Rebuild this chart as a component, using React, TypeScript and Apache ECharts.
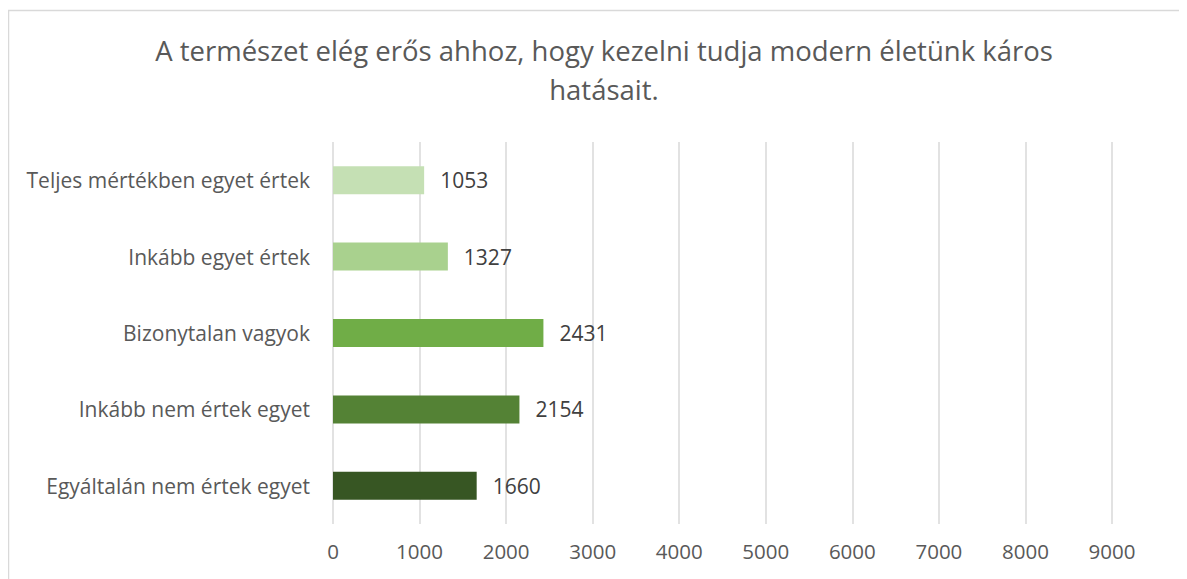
import React, { useEffect, useRef } from "react";
import * as echarts from "echarts";

const titleText = "A természet elég erős ahhoz, hogy kezelni tudja modern életünk káros\nhatásait.";
const categories = [
  "Egyáltalán nem értek egyet",
  "Inkább nem értek egyet",
  "Bizonytalan vagyok",
  "Inkább egyet értek",
  "Teljes mértékben egyet értek",
];
const values = [1660, 2154, 2431, 1327, 1053];
const barColors = ["#375623", "#548235", "#70AD47", "#A9D18E", "#C5E0B4"];
const axisMin = 0;
const axisMax = 9000;
const axisInterval = 1000;

const FONT = "'Open Sans', 'Noto Sans', sans-serif";

export default function App() {
  const ref = useRef<HTMLDivElement>(null);
  useEffect(() => {
    if (!ref.current) return;
    const chart = echarts.init(ref.current, undefined, { renderer: "svg" });
    chart.setOption({
      animation: false,
      graphic: [
        {
          type: "rect",
          shape: { x: 0.5, y: 2.5, width: 1300, height: 700 },
          style: { fill: "none", stroke: "#D9D9D9", lineWidth: 1.5 },
          silent: true,
        },
        {
          type: "text",
          x: 596,
          y: 62,
          style: {
            text: titleText,
            font: `27.5px ${FONT}`,
            fill: "#595959",
            textAlign: "center",
            textVerticalAlign: "middle",
            lineHeight: 39,
          },
        },
      ],
      grid: { left: 325, right: 75, top: 134, bottom: 55, containLabel: false },
      xAxis: {
        type: "value",
        min: axisMin,
        max: axisMax,
        interval: axisInterval,
        axisLine: { show: false },
        axisTick: { show: false },
        splitLine: { show: true, lineStyle: { color: "#D9D9D9", width: 1.5 } },
        axisLabel: {
          color: "#595959",
          fontSize: 20.5,
          fontFamily: FONT,
          margin: 16,
          formatter: (v: number) => String(v),
        },
      },
      yAxis: {
        type: "category",
        data: categories,
        axisLine: { show: false },
        axisTick: { show: false },
        axisLabel: { color: "#595959", fontSize: 21, fontFamily: FONT, margin: 23 },
      },
      series: [
        {
          type: "bar",
          data: values.map((v, i) => ({ value: v, itemStyle: { color: barColors[i] } })),
          barWidth: 28,
          label: {
            show: true,
            position: "right",
            distance: 16,
            color: "#404040",
            fontSize: 21,
            fontFamily: FONT,
          },
        },
      ],
    });
    return () => chart.dispose();
  }, []);
  return <div ref={ref} style={{ width: 1179, height: 571 }} />;
}
